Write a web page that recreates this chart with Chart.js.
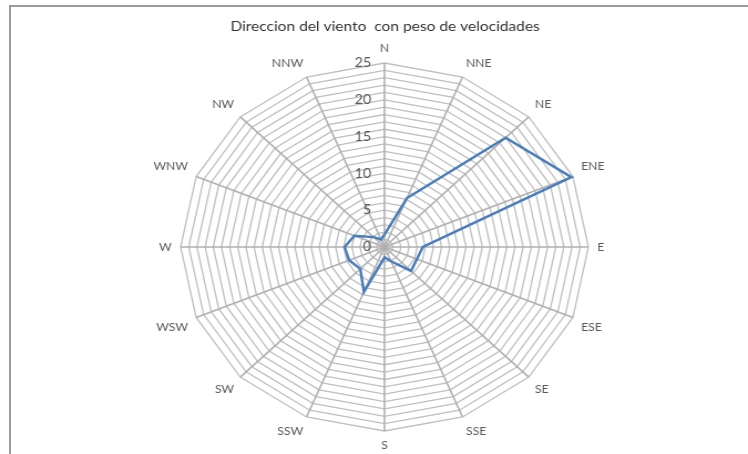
<!DOCTYPE html>
<html>
<head>
<meta charset="utf-8">
<script src="https://cdn.jsdelivr.net/npm/chart.js@4.4.1/dist/chart.umd.min.js"></script>
<style>
  html, body { margin: 0; padding: 0; background: #fff; overflow: hidden; width: 748px; height: 454px; }
  #frame { position: absolute; left: 9px; top: 5px; width: 780px; height: 480px;
           border-left: 2px solid #9a9a9a; border-top: 2px solid #9a9a9a; }
  #wrap { position: absolute; left: 0; top: 0; width: 675px; height: 454px;
          transform: scaleX(1.1081); transform-origin: 0 0; }
</style>
</head>
<body>
<div id="frame"></div>
<div id="wrap"><canvas id="c" width="675" height="454"></canvas></div>
<script>
// Wind directions (16-point compass), clockwise from north
const directions = ['N', 'NNE', 'NE', 'ENE', 'E', 'ESE', 'SE', 'SSE',
                    'S', 'SSW', 'SW', 'WSW', 'W', 'WNW', 'NW', 'NNW'];
// Speed-weighted frequency per direction
const weightedSpeed = [1.7, 7.2, 21, 24.8, 4.7, 4.3, 4.6, 2.1,
                       1.4, 6.6, 4.2, 4.7, 4.9, 4.0, 1.9, 1.1];
// Labelled radial ticks
const tickLabels = [0, 5, 10, 15, 20, 25];
const chartTitle = 'Direccion del viento  con peso de velocidades';

// Radial tick labels drawn just left of the north spoke
const tickLabelPlugin = {
  id: 'tickLabelsLeft',
  beforeDatasetsDraw(chart) {
    const r = chart.scales.r;
    const ctx = chart.ctx;
    ctx.save();
    ctx.font = '13px Lato';
    ctx.fillStyle = '#595959';
    ctx.textAlign = 'right';
    ctx.textBaseline = 'middle';
    tickLabels.forEach(v => {
      const d = r.getDistanceFromCenterForValue(v);
      ctx.fillText(String(v), r.xCenter - 12, r.yCenter - d);
    });
    ctx.restore();
  }
};

new Chart(document.getElementById('c'), {
  type: 'radar',
  data: {
    labels: directions,
    datasets: [{
      data: weightedSpeed,
      borderColor: '#4a7ebb',
      borderWidth: 2.5,
      fill: false,
      pointRadius: 0
    }]
  },
  options: {
    responsive: false,
    animation: false,
    layout: { padding: { left: 20, right: 0, top: 0, bottom: 0 } },
    elements: { line: { tension: 0 } },
    plugins: {
      legend: { display: false },
      tooltip: { enabled: false },
      title: {
        display: true,
        text: chartTitle,
        color: '#333333',
        font: { family: 'Lato', size: 14, weight: 'normal' },
        padding: { top: 18, bottom: 7 }
      }
    },
    scales: {
      r: {
        min: 0,
        max: 25,
        ticks: { stepSize: 1, display: false },
        grid: { color: '#bfbfbf', lineWidth: 1.3 },
        angleLines: { color: '#b0b0b0', lineWidth: 1.6 },
        pointLabels: {
          color: '#595959',
          font: { family: 'Lato', size: 11 },
          padding: 8
        }
      }
    }
  },
  plugins: [tickLabelPlugin]
});
</script>
</body>
</html>
